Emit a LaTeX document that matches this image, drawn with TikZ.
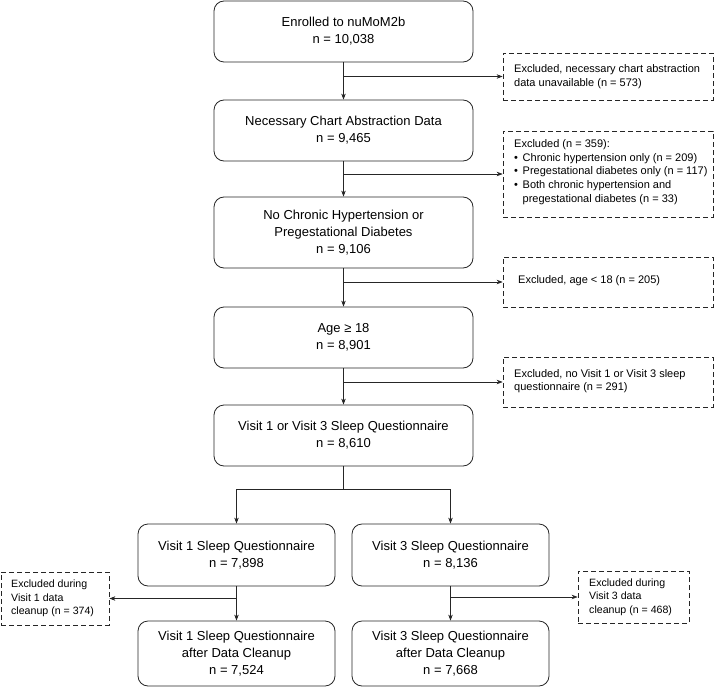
\documentclass[tikz,border=0pt]{standalone}
\usepackage{fontspec}
\setmainfont{Liberation Sans}
\usetikzlibrary{arrows.meta}
\begin{document}
\begin{tikzpicture}[x=1pt,y=-1pt,
  mainbox/.style={draw=black!85,line width=0.8pt,rounded corners=10pt,align=center,
    font=\fontsize{13}{17}\selectfont,inner sep=0pt},
  exbox/.style={draw=black!85,line width=0.8pt,dash pattern=on 5pt off 3pt,align=left,
    font=\fontsize{11}{13.7}\selectfont,inner sep=0pt},
  extext/.style={anchor=west,align=left,font=\fontsize{11}{13.6}\selectfont,inner sep=0pt},
  smalltext/.style={anchor=west,align=left,font=\fontsize{10.6}{13.5}\selectfont,inner sep=0pt},
  arr/.style={line width=0.6pt,draw=black!85,-{Stealth[length=6pt,width=4.5pt]}},
  ln/.style={line width=0.6pt,draw=black!85}]
\useasboundingbox (0,0) rectangle (714,687);
% main boxes
\node[mainbox,minimum width=259pt,minimum height=61pt] (b1) at (343.5,31.5) {Enrolled to nuMoM2b\\n = 10,038};
\node[mainbox,minimum width=259pt,minimum height=61pt] (b2) at (343.5,130.5) {Necessary Chart Abstraction Data\\n = 9,465};
\node[mainbox,minimum width=259pt,minimum height=71pt] (b3) at (343.5,232.5) {No Chronic Hypertension or\\Pregestational Diabetes\\n = 9,106};
\node[mainbox,minimum width=259pt,minimum height=61pt] (b4) at (343.5,337.5) {Age ≥ 18\\n = 8,901};
\node[mainbox,minimum width=259pt,minimum height=61pt] (b5) at (343.5,435.5) {Visit 1 or Visit 3 Sleep Questionnaire\\n = 8,610};
\node[mainbox,minimum width=197pt,minimum height=62pt] (v1) at (236.5,555) {Visit 1 Sleep Questionnaire\\n = 7,898};
\node[mainbox,minimum width=197pt,minimum height=62pt] (v3) at (450.5,555) {Visit 3 Sleep Questionnaire\\n = 8,136};
\node[mainbox,minimum width=197pt,minimum height=65pt] (c1) at (236.5,653.5) {Visit 1 Sleep Questionnaire\\after Data Cleanup\\n = 7,524};
\node[mainbox,minimum width=197pt,minimum height=65pt] (c3) at (450.5,653.5) {Visit 3 Sleep Questionnaire\\after Data Cleanup\\n = 7,668};
% exclusion boxes
\node[exbox,minimum width=210pt,minimum height=47pt] (e1) at (608,76.5) {};
\node[extext] (t1) at (514,76.5) {Excluded, necessary chart abstraction\\data unavailable (n = 573)};
\node[exbox,minimum width=210pt,minimum height=86pt] (e2) at (608,174) {};
\node[extext] (t2) at (514,172) {Excluded (n = 359):\\\makebox[8.5pt][l]{•}Chronic hypertension only (n = 209)\\\makebox[8.5pt][l]{•}Pregestational diabetes only (n = 117)\\\makebox[8.5pt][l]{•}Both chronic hypertension and\\\hspace*{8.5pt}pregestational diabetes (n = 33)};
\node[exbox,minimum width=210pt,minimum height=50pt] (e3) at (608,282) {};
\node[extext] (t3) at (518,281) {Excluded, age < 18 (n = 205)};
\node[exbox,minimum width=210pt,minimum height=50pt] (e4) at (608,382) {};
\node[extext] (t4) at (514,381) {Excluded, no Visit 1 or Visit 3 sleep\\questionnaire (n = 291)};
\node[exbox,minimum width=108pt,minimum height=53pt] (x1) at (55,598.5) {};
\node[smalltext] (tx1) at (11,598.5) {Excluded during\\Visit 1 data\\cleanup (n = 374)};
\node[exbox,minimum width=111pt,minimum height=52pt] (x3) at (633.5,597) {};
\node[smalltext] (tx3) at (589,597) {Excluded during\\Visit 3 data\\cleanup (n = 468)};
% connectors
\draw[arr] (b1.south) -- (b2.north);
\draw[arr] (b1.south |- e1.west) -- (e1.west);
\draw[arr] (b2.south) -- (b3.north);
\draw[arr] (b2.south |- e2.west) -- (e2.west);
\draw[arr] (b3.south) -- (b4.north);
\draw[arr] (b3.south |- e3.west) -- (e3.west);
\draw[arr] (b4.south) -- (b5.north);
\draw[arr] (b4.south |- e4.west) -- (e4.west);
\coordinate (s) at (343.5,489);
\draw[ln] (b5.south) -- (s);
\draw[arr] (s) -| (v1.north);
\draw[arr] (s) -| (v3.north);
\draw[arr] (v1.south) -- (c1.north);
\draw[arr] (v1.south |- x1.east) -- (x1.east);
\draw[arr] (v3.south) -- (c3.north);
\draw[arr] (v3.south |- x3.west) -- (x3.west);
\end{tikzpicture}
\end{document}
